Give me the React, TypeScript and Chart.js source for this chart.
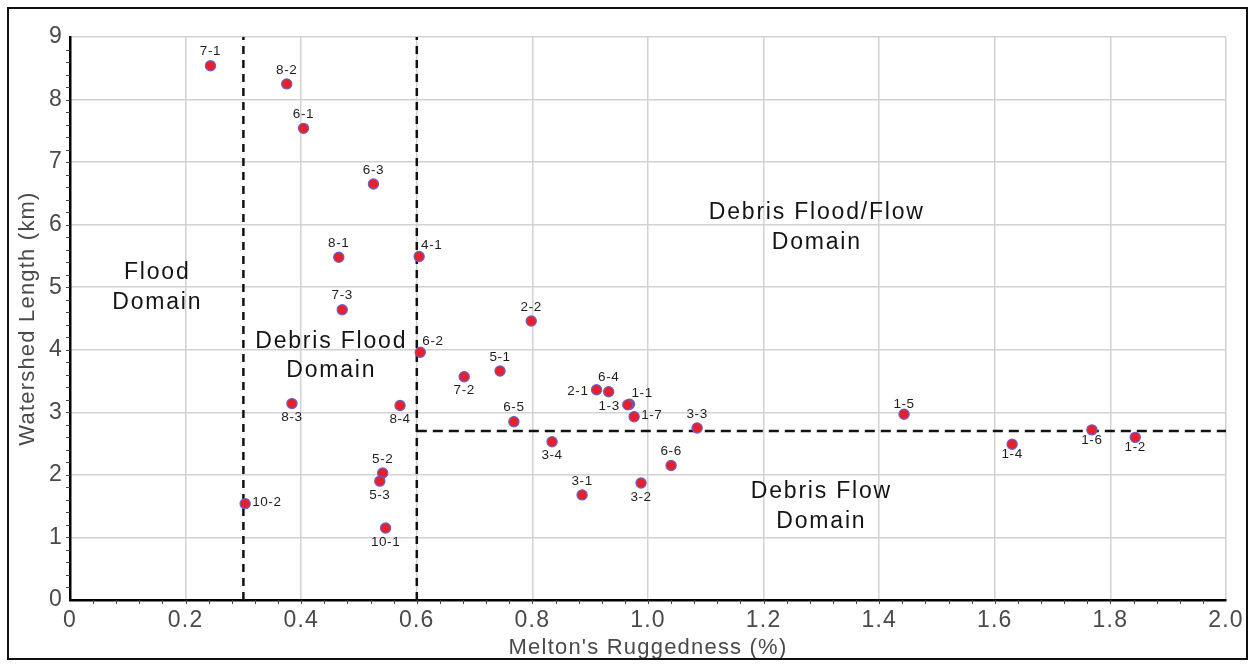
import { useEffect, useRef } from "react";
import { Chart, registerables } from "chart.js";

Chart.register(...registerables);

// ---- data ----
const siteLabels = [
  "7-1", "8-2", "6-1", "6-3", "8-1", "4-1", "7-3", "2-2", "6-2", "5-1", "7-2",
  "8-4", "8-3", "6-5", "2-1", "6-4", "1-1", "1-3", "1-7", "3-3", "3-4", "6-6",
  "3-1", "3-2", "1-5", "1-4", "1-6", "1-2", "5-2", "5-3", "10-2", "10-1",
];
const ruggedness = [
  0.243, 0.375, 0.404, 0.525, 0.465, 0.604, 0.471, 0.798, 0.606, 0.744, 0.682,
  0.571, 0.384, 0.768, 0.911, 0.932, 0.968, 0.965, 0.976, 1.085, 0.834, 1.04,
  0.886, 0.988, 1.443, 1.63, 1.768, 1.843, 0.541, 0.536, 0.303, 0.546,
];
const watershedLength = [
  8.54, 8.25, 7.54, 6.65, 5.48, 5.49, 4.64, 4.46, 3.96, 3.66, 3.57,
  3.11, 3.14, 2.85, 3.36, 3.33, 3.13, 3.12, 2.93, 2.75, 2.53, 2.15,
  1.68, 1.87, 2.97, 2.49, 2.72, 2.6, 2.03, 1.9, 1.54, 1.15,
];
// where each site label sits relative to its point
const labelPlacement = [
  "t", "t", "t", "t", "t", "tr", "t", "t", "tr", "t", "b",
  "b", "b", "t", "l", "t", "tr", "l", "r", "t", "b", "t",
  "t", "b", "tn", "bn", "bn", "bn", "t", "b", "r", "b",
];

const xTickLabels = ["0", "0.2", "0.4", "0.6", "0.8", "1.0", "1.2", "1.4", "1.6", "1.8", "2.0"];
const yTickLabels = ["0", "1", "2", "3", "4", "5", "6", "7", "8", "9"];

// domain boundary lines
const floodBoundaryX = [0.3, 0.3];
const floodBoundaryY = [0, 9];
const debrisFloodBoundaryX = [0.6, 0.6];
const debrisFloodBoundaryY = [0, 9];
const debrisFlowBoundaryX = [0.6, 2.0];
const debrisFlowBoundaryY = [2.7, 2.7];

// domain annotations
const domainNames = [
  ["Flood", "Domain"],
  ["Debris Flood", "Domain"],
  ["Debris Flood/Flow", "Domain"],
  ["Debris Flow", "Domain"],
];
const domainX = [0.151, 0.452, 1.292, 1.3];
const domainY = [5.23, 4.13, 6.19, 1.73];

const FONT = "'Liberation Sans', Arial, Helvetica, sans-serif";

const toXY = (xs: number[], ys: number[]) => xs.map((x, i) => ({ x, y: ys[i] }));

export default function App() {
  const ref = useRef<HTMLCanvasElement>(null);

  useEffect(() => {
    const canvas = ref.current!;

    const decorPlugin = {
      id: "decor",
      beforeDraw(chart: any) {
        const ctx = chart.ctx;
        ctx.save();
        ctx.fillStyle = "#ffffff";
        ctx.fillRect(0, 0, chart.width, chart.height);
        ctx.restore();
        (ctx as any).letterSpacing = "1.2px";
      },
      afterDatasetsDraw(chart: any) {
        const ctx = chart.ctx;
        const meta = chart.getDatasetMeta(3);
        ctx.save();
        (ctx as any).letterSpacing = "0.6px";
        ctx.font = `13.5px ${FONT}`;
        ctx.fillStyle = "#1e1e1e";
        ctx.textBaseline = "middle";
        meta.data.forEach((pt: any, i: number) => {
          const p = labelPlacement[i];
          let dx = 0, dy = 0, align: CanvasTextAlign = "center";
          if (p === "t") dy = -14;
          else if (p === "b") dy = 14;
          else if (p === "tn") dy = -10;
          else if (p === "bn") dy = 10;
          else if (p === "tr") { dx = 2; dy = -11; align = "left"; }
          else if (p === "l") { dx = -8; dy = 1; align = "right"; }
          else if (p === "r") { dx = 7; dy = -1; align = "left"; }
          ctx.textAlign = align;
          ctx.fillText(siteLabels[i], pt.x + dx, pt.y + dy);
        });
        ctx.restore();
      },
      afterDraw(chart: any) {
        const ctx = chart.ctx;
        const xs = chart.scales.x;
        const ys = chart.scales.y;
        ctx.save();
        // minor ticks
        ctx.strokeStyle = "#444";
        ctx.lineWidth = 1;
        ctx.beginPath();
        for (let k = 1; k < 50; k++) {
          const px = Math.round(xs.getPixelForValue(k * 0.04)) + 0.5;
          ctx.moveTo(px, ys.bottom);
          ctx.lineTo(px, ys.bottom + 4);
        }
        for (let k = 1; k < 45; k++) {
          const py = Math.round(ys.getPixelForValue(k * 0.2)) + 0.5;
          ctx.moveTo(xs.left - 4, py);
          ctx.lineTo(xs.left, py);
        }
        ctx.stroke();

        // domain annotations
        (ctx as any).letterSpacing = "1.8px";
        ctx.font = `23px ${FONT}`;
        ctx.fillStyle = "#141414";
        ctx.textAlign = "center";
        ctx.textBaseline = "middle";
        domainNames.forEach((lines, i) => {
          const cx = xs.getPixelForValue(domainX[i]);
          const cy = ys.getPixelForValue(domainY[i]);
          lines.forEach((t, j) => ctx.fillText(t, cx, cy + j * 29.5));
        });

        // outer frame
        (ctx as any).letterSpacing = "0px";
        ctx.strokeStyle = "#111";
        ctx.lineWidth = 2;
        ctx.strokeRect(8, 8, 1239, 651);
        ctx.restore();
        (ctx as any).letterSpacing = "0px";
      },
    };

    const chart = new Chart(canvas, {
      type: "scatter",
      data: {
        datasets: [
          {
            label: "Flood boundary",
            data: toXY(floodBoundaryX, floodBoundaryY),
            showLine: true,
            borderColor: "#111",
            borderWidth: 2.5,
            borderDash: [8, 6],
            pointRadius: 0,
            order: 2,
          },
          {
            label: "Debris flood boundary",
            data: toXY(debrisFloodBoundaryX, debrisFloodBoundaryY),
            showLine: true,
            borderColor: "#111",
            borderWidth: 2.5,
            borderDash: [8, 6],
            pointRadius: 0,
            order: 2,
          },
          {
            label: "Debris flow boundary",
            data: toXY(debrisFlowBoundaryX, debrisFlowBoundaryY),
            showLine: true,
            borderColor: "#111",
            borderWidth: 2.5,
            borderDash: [10, 6],
            pointRadius: 0,
            order: 2,
          },
          {
            label: "Watersheds",
            data: toXY(ruggedness, watershedLength),
            backgroundColor: "#e8202c",
            borderColor: "#6a5fc8",
            borderWidth: 1.2,
            pointRadius: 5.1,
            order: 0,
          },
        ],
      },
      options: {
        responsive: false,
        animation: false,
        devicePixelRatio: 1,
        layout: { padding: { top: 37, right: 28, left: 0, bottom: 0 } },
        plugins: {
          legend: { display: false },
          tooltip: { enabled: false },
        },
        scales: {
          x: {
            type: "linear",
            min: 0,
            max: 2,
            afterFit: (s: any) => { s.height = 67; },
            ticks: {
              stepSize: 0.2,
              autoSkip: false,
              maxRotation: 0,
              padding: 7,
              color: "#4a4a4a",
              font: { family: FONT, size: 23 },
              callback: (_v: any, i: number) => xTickLabels[i],
            },
            grid: { color: "#d2d2d2", lineWidth: 1.5, drawTicks: false },
            border: { color: "#000", width: 2.5 },
            title: {
              display: true,
              text: "Melton's Ruggedness (%)",
              color: "#4a4a4a",
              font: { family: FONT, size: 22 },
              padding: { top: 0, bottom: 6 },
            },
          },
          y: {
            type: "linear",
            min: 0,
            max: 9,
            afterFit: (s: any) => { s.width = 70; },
            ticks: {
              stepSize: 1,
              autoSkip: false,
              padding: 7,
              color: "#4a4a4a",
              font: { family: FONT, size: 23 },
              callback: (_v: any, i: number) => yTickLabels[i],
            },
            grid: { color: "#d2d2d2", lineWidth: 1.5, drawTicks: false },
            border: { color: "#000", width: 2.5 },
            title: {
              display: true,
              text: "Watershed Length (km)",
              color: "#4a4a4a",
              font: { family: FONT, size: 22 },
              padding: { top: 15, bottom: 0 },
            },
          },
        },
      },
      plugins: [decorPlugin],
    });

    return () => chart.destroy();
  }, []);

  return (
    <div style={{ position: "absolute", left: 0, top: 0, width: 1254, height: 667, background: "#fff" }}>
      <canvas ref={ref} width={1254} height={667} style={{ display: "block" }} />
    </div>
  );
}
